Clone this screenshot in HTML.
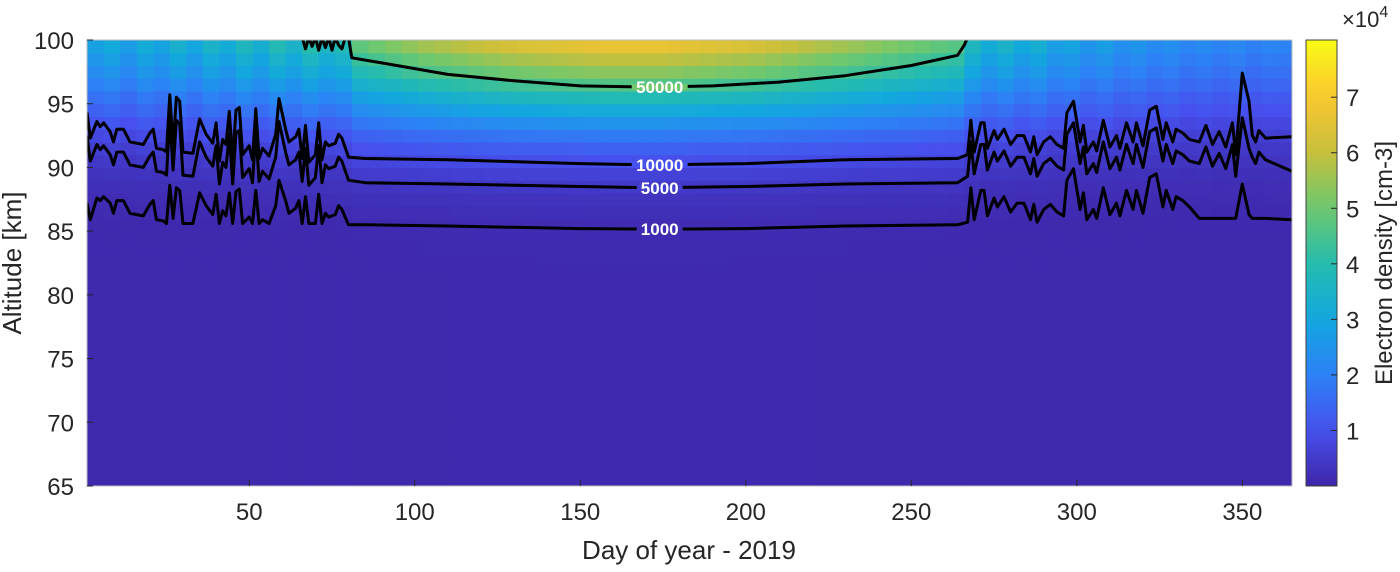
<!DOCTYPE html>
<html><head><meta charset="utf-8"><style>
html,body{margin:0;padding:0;background:#fff;}
svg text{font-family:"Liberation Sans",Arial,sans-serif;}
</style></head><body>
<svg id="chart" width="1400" height="567" viewBox="0 0 1400 567" xmlns="http://www.w3.org/2000/svg">
<defs><clipPath id="plotclip"><rect x="87" y="40" width="1205" height="446"/></clipPath>
<linearGradient id="cbgrad" x1="0" y1="1" x2="0" y2="0"></linearGradient></defs>
<g id="heat" clip-path="url(#plotclip)"></g>
<g id="contours" clip-path="url(#plotclip)"></g>
<g id="clabels"></g>
<rect x="87" y="40" width="1205" height="446" fill="none" stroke="#bdbdbd" stroke-width="1"/>
<g id="xticks"></g>
<g id="yticks"></g>
<text x="689" y="559" font-size="26" text-anchor="middle" fill="#262626">Day of year - 2019</text>
<text transform="translate(21,263) rotate(-90)" font-size="26" text-anchor="middle" fill="#262626">Altitude [km]</text>
<rect x="1306" y="40" width="31" height="446" fill="url(#cbgrad)" stroke="#404040" stroke-width="1"/>
<g id="cbticks"></g>
<text x="1342" y="27" font-size="22" fill="#262626">×10<tspan dy="-10" font-size="16">4</tspan></text>
<text transform="translate(1392,263) rotate(-90)" font-size="24" text-anchor="middle" fill="#262626">Electron density [cm-3]</text>
</svg>
<script>
const altitudes=[65,66,67,68,69,70,71,72,73,74,75,76,77,78,79,80,81,82,83,84,85,86,87,88,89,90,91,92,93,94,95,96,97,98,99];
const profile=[0.05,0.05,0.05,0.05,0.05,0.05,0.05,0.05,0.05,0.05,0.05,0.05,0.05,0.05,0.05,0.05,0.05,0.06,0.07,0.08,0.1,0.18,0.28,0.42,0.62,0.92,1.3,1.8,2.4,3.1,3.8,4.6,5.3,5.9,6.6];
const binStarts=[];for(let d=1;d<=361;d+=5)binStarts.push(d);
const season=[0.42,0.46,0.40,0.47,0.43,0.50,0.44,0.52,0.47,0.55,0.49,0.58,0.52,0.60,0.54,0.58,
0.72,0.75,0.78,0.81,0.84,0.86,0.88,0.90,0.92,0.94,0.95,0.96,0.97,0.98,0.99,1.0,1.0,1.0,1.0,0.99,0.98,0.97,0.96,0.95,0.94,0.92,0.90,0.88,0.86,0.84,0.82,0.80,0.78,0.76,0.74,0.72,0.70,
0.55,0.47,0.52,0.45,0.49,0.41,0.43,0.37,0.41,0.35,0.37,0.33,0.35,0.31,0.33,0.30,0.32,0.29,0.31,0.30];
const contourDays=[1,2,4,5,6,8,9,10,12,14,16,18,20,21,22,24,25,26,27,28,29,30,33,35,37,39,40,41,42,43,44,45,46,47,48,50,51,52,53,54,56,58,59,61,62,64,65,66,67,68,70,71,72,73,74,76,77,78,80,85,110,150,172,200,230,264,267,268,269,271,272,273,275,276,278,280,282,284,286,287,288,290,292,294,296,297,299,301,302,303,305,306,308,310,312,313,315,317,318,320,322,324,326,327,329,330,332,334,337,339,341,343,345,347,348,350,352,353,354,355,357,365];
const c10000=[94.3,92.3,93.6,93.2,93.5,92.8,92.0,93.0,93.0,92.0,91.9,91.8,92.7,93.0,91.5,91.4,91.2,95.7,91.6,95.5,95.2,91.2,91.1,93.8,92.6,91.9,93.5,90.5,92.2,91.8,94.4,90.5,94.5,94.7,91.0,91.7,90.6,94.6,90.7,91.5,90.9,92.6,95.4,93.0,92.0,92.4,93.0,90.7,93.3,90.4,91.0,93.5,90.6,92.0,91.7,91.9,92.6,92.3,90.8,
90.7,90.6,90.3,90.2,90.3,90.6,90.7,
91.0,93.7,91.2,93.5,93.5,91.5,92.9,92.2,93.0,91.8,92.5,92.5,91.2,92.4,91.0,92.0,92.4,91.8,91.5,94.3,95.2,92.0,93.3,91.2,92.0,91.3,93.7,91.6,92.5,91.5,93.5,92.0,93.5,91.7,94.5,94.8,92.2,93.5,92.0,93.0,92.7,92.2,92.0,93.3,91.8,92.8,91.6,93.5,91.0,97.4,95.2,92.5,92.0,92.9,92.3,92.4];
const c5000=[92.5,90.5,91.8,91.4,91.7,91.0,90.2,91.2,91.2,90.2,90.1,90.0,90.9,91.2,89.7,89.6,89.4,93.9,89.8,93.7,93.4,89.4,89.3,92.0,90.8,90.1,91.7,88.7,90.4,90.0,92.6,88.7,92.7,92.9,89.2,89.9,88.8,92.8,88.9,89.7,89.1,90.8,93.6,91.2,90.2,90.6,91.2,88.9,91.5,88.6,89.2,91.7,88.8,90.2,89.9,90.1,90.8,90.5,89.0,
88.8,88.7,88.5,88.4,88.5,88.7,88.8,
89.3,92.0,89.5,91.8,91.8,89.8,91.2,90.5,91.3,90.1,90.8,90.8,89.5,90.7,89.3,90.3,90.7,90.1,89.8,92.6,93.5,90.3,91.6,89.5,90.3,89.6,92.0,89.9,90.8,89.8,91.8,90.3,91.8,90.0,92.8,93.1,90.5,91.8,90.3,91.3,91.0,90.5,90.3,91.6,90.1,91.1,89.9,91.8,89.3,93.9,91.5,90.8,90.3,91.2,90.6,89.7];
const c1000=[87.2,85.9,87.6,87.4,87.7,87.2,86.4,87.4,87.4,86.4,86.3,86.2,87.1,87.4,85.9,85.8,85.6,88.6,86.0,88.4,88.2,85.6,85.6,88.0,87.0,86.3,87.9,85.6,86.6,86.2,88.0,85.6,88.1,88.3,85.6,86.1,85.6,88.2,85.6,85.9,85.6,87.0,89.0,87.4,86.4,86.8,87.4,85.6,87.7,85.6,85.6,87.9,85.6,86.4,86.1,86.3,87.0,86.7,85.5,
85.5,85.4,85.2,85.15,85.2,85.4,85.5,
85.7,88.4,85.9,88.2,88.2,86.2,87.6,86.9,87.7,86.5,87.2,87.2,85.9,87.1,85.7,86.7,87.1,86.5,86.2,89.0,89.9,86.7,88.0,85.9,86.7,86.0,88.4,86.3,87.2,86.2,88.2,86.7,88.2,86.4,89.2,89.5,86.9,88.2,86.7,87.7,87.4,86.9,86.0,86.0,86.0,86.0,86.0,86.0,86.0,88.7,86.3,86.0,86.0,86.0,86.0,85.9];
const c50000Days=[80,81,90,110,130,150,172,190,210,230,250,264,266,267];
const c50000=[100.2,98.6,98.2,97.3,96.8,96.4,96.3,96.4,96.7,97.2,98.0,98.8,99.6,100.2];
const c50000WinterDays=[66,67,68,69,70,71,72,73,74,75,76,77,78,79,80];
const c50000Winter=[100.2,99.3,100.2,99.5,100.2,99.2,100.2,99.4,100.2,99.2,100.2,99.6,99.3,100.2,100.2];
const contourLevelLabels=["1000","5000","10000","50000"];
const labelDay=[174,174,174,174];
const labelAlt=[85.15,88.4,90.2,96.3];
const xTickVals=[50,100,150,200,250,300,350];
const yTickVals=[65,70,75,80,85,90,95,100];
const cbTickVals=[1,2,3,4,5,6,7];

const X0=87,X1=1292,Y0=40,Y1=486;
const xS=d=>X0+(d-1)/(365-1)*(X1-X0);
const yS=a=>Y1-(a-65)/(100-65)*(Y1-Y0);
const cMax=8.03;
const cbS=v=>Y1-v/cMax*(Y1-Y0);
const stops=[[0,[62,38,168]],[0.125,[71,80,238]],[0.25,[45,130,246]],[0.375,[18,168,222]],[0.5,[38,188,173]],[0.625,[110,200,110]],[0.75,[200,192,60]],[0.875,[252,198,48]],[1,[249,251,21]]];
function parula(t){t=Math.max(0,Math.min(1,t));for(let i=1;i<stops.length;i++){if(t<=stops[i][0]){const a=stops[i-1],b=stops[i],f=(t-a[0])/(b[0]-a[0]);return 'rgb('+a[1].map((c,k)=>Math.round(c+(b[1][k]-c)*f)).join(',')+')';}}return 'rgb(249,251,21)';}
const NS='http://www.w3.org/2000/svg';
function mk(tag,attrs,parent){const e=document.createElementNS(NS,tag);for(const k in attrs)e.setAttribute(k,attrs[k]);parent.appendChild(e);return e;}
const heat=document.getElementById('heat');
binStarts.forEach((d,i)=>{altitudes.forEach((a,j)=>{
  const v=profile[j]*season[i]+0.05;
  const x=xS(d),w=xS(d+5)-x+0.6,y=yS(a+1),h=yS(a)-y+0.6;
  const r=mk('rect',{x:x.toFixed(2),y:y.toFixed(2),width:w.toFixed(2),height:h.toFixed(2),fill:parula(v/cMax)},heat);
  
  
});});
const cg=document.getElementById('contours');
function line(days,vals,name){const p=mk('polyline',{points:days.map((d,i)=>xS(d).toFixed(1)+','+yS(vals[i]).toFixed(1)).join(' '),fill:'none',stroke:'#000','stroke-width':3,'stroke-linejoin':'round'},cg);
 
 }
line(contourDays,c1000,'contour-1000');
line(contourDays,c5000,'contour-5000');
line(contourDays,c10000,'contour-10000');
line(c50000Days,c50000,'contour-50000');
line(c50000WinterDays,c50000Winter,'contour-50000-winter');
const lg=document.getElementById('clabels');
contourLevelLabels.forEach((s,i)=>{const x=xS(labelDay[i]),y=yS(labelAlt[i]);
 const w=s.length*10+6;
 const r=mk('rect',{x:x-w/2,y:y-3,width:w,height:6,fill:parula((+s/1e4+0.05)/cMax)},lg);
 
 
 const t=mk('text',{x:x,y:y+6,'font-size':17,'font-weight':'bold',fill:'#fff','text-anchor':'middle'},lg);t.textContent=s;
 
 });
const xt=document.getElementById('xticks');
xTickVals.forEach(v=>{const x=xS(v);mk('line',{x1:x,x2:x,y1:Y1,y2:Y1-6,stroke:'#262626'},xt);
 const t=mk('text',{x:x,y:520,'font-size':24,'text-anchor':'middle',fill:'#262626'},xt);t.textContent=v;
 
 });
const yt=document.getElementById('yticks');
yTickVals.forEach(v=>{const y=yS(v);mk('line',{x1:X0,x2:X0+6,y1:y,y2:y,stroke:'#262626'},yt);
 const t=mk('text',{x:74,y:y+9,'font-size':24,'text-anchor':'end',fill:'#262626'},yt);t.textContent=v;
 
 });
const grad=document.getElementById('cbgrad');
for(let i=0;i<=20;i++){mk('stop',{offset:(i/20),'stop-color':parula(i/20)},grad);}
const cbt=document.getElementById('cbticks');
cbTickVals.forEach(v=>{const y=cbS(v);mk('line',{x1:1331,x2:1337,y1:y,y2:y,stroke:'#262626'},cbt);
 const t=mk('text',{x:1346,y:y+9,'font-size':24,fill:'#262626'},cbt);t.textContent=v;
 
 });
</script>
</body></html>
